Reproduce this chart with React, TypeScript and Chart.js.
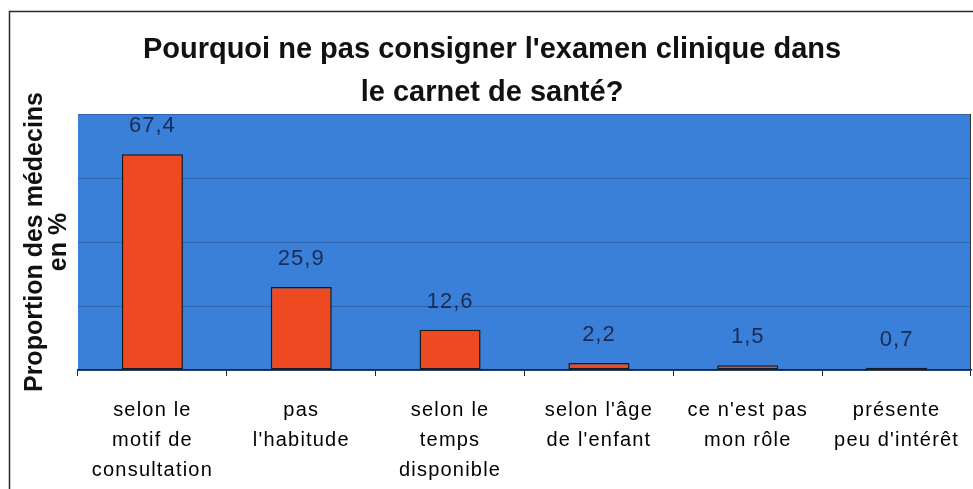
import React, { useEffect, useRef } from "react";
import { Chart, registerables } from "chart.js";

Chart.register(...registerables);

const TITLE_LINES = ["Pourquoi ne pas consigner l'examen clinique dans", "le carnet de santé?"];
const Y_TITLE_LINES = ["Proportion des médecins", "en %"];
const CATEGORIES: string[][] = [
  ["selon le", "motif de", "consultation"],
  ["pas", "l'habitude"],
  ["selon le", "temps", "disponible"],
  ["selon l'âge", "de l'enfant"],
  ["ce n'est pas", "mon rôle"],
  ["présente", "peu d'intérêt"],
];
const VALUES = [67.4, 25.9, 12.6, 2.2, 1.5, 0.7];
const Y_MIN = 0;
const Y_MAX = 80;
const Y_STEP = 20;

const PLOT_BG = "#3a7fd8";
const BAR_COLOR = "#ee4a22";
const GRID_COLOR = "#2f64ad";
const LABEL_COLOR = "#1c2b52";

const decoPlugin = {
  id: "deco",
  beforeDraw(chart: any) {
    const { ctx, chartArea } = chart;
    ctx.save();
    ctx.fillStyle = "#ffffff";
    ctx.fillRect(0, 0, chart.width, chart.height);
    ctx.fillStyle = PLOT_BG;
    ctx.fillRect(chartArea.left, chartArea.top, chartArea.right - chartArea.left, chartArea.bottom - chartArea.top);
    ctx.restore();
    const xs = chart.scales.x;
    if (xs && !xs.__patched) {
      const orig = xs.drawLabels.bind(xs);
      xs.drawLabels = (area: any) => {
        const c = xs.ctx;
        c.save();
        try { (c as any).letterSpacing = "1.2px"; } catch (e) {}
        orig(area);
        c.restore();
      };
      xs.__patched = true;
    }
  },
  afterDraw(chart: any) {
    const { ctx, chartArea } = chart;
    ctx.save();
    ctx.strokeStyle = "#2a2a2a";
    ctx.lineWidth = 1.5;
    ctx.beginPath();
    ctx.moveTo(9.5, chart.height);
    ctx.lineTo(9.5, 11.5);
    ctx.lineTo(chart.width, 11.5);
    ctx.stroke();
    ctx.beginPath();
    ctx.strokeStyle = "#333333";
    ctx.lineWidth = 1;
    ctx.moveTo(chartArea.right - 0.5, chartArea.top);
    ctx.lineTo(chartArea.right - 0.5, chartArea.bottom);
    ctx.stroke();
    ctx.restore();
  },
  afterDatasetsDraw(chart: any) {
    const { ctx } = chart;
    const meta = chart.getDatasetMeta(0);
    const data = chart.data.datasets[0].data as number[];
    ctx.save();
    try { (ctx as any).letterSpacing = "1px"; } catch (e) {}
    ctx.font = "22px 'Liberation Sans', Arial, sans-serif";
    ctx.fillStyle = LABEL_COLOR;
    ctx.textAlign = "center";
    ctx.textBaseline = "middle";
    meta.data.forEach((bar: any, i: number) => {
      const txt = data[i].toFixed(1).replace(".", ",");
      ctx.fillText(txt, bar.x, bar.y - 28);
    });
    ctx.restore();
  },
};

export default function App() {
  const ref = useRef<HTMLCanvasElement | null>(null);
  useEffect(() => {
    document.body.style.margin = "0";
    if (!ref.current) return;
    const chart = new Chart(ref.current, {
      type: "bar",
      data: {
        labels: CATEGORIES,
        datasets: [
          {
            data: VALUES,
            backgroundColor: BAR_COLOR,
            borderColor: "#1a1a1a",
            borderWidth: 1.5,
            borderSkipped: false,
            barPercentage: 0.41,
            categoryPercentage: 1,
          },
        ],
      },
      options: {
        responsive: false,
        animation: false,
        layout: { padding: { left: 13, right: 2, top: 0, bottom: 0 } },
        plugins: {
          legend: { display: false },
          tooltip: { enabled: false },
          title: {
            display: true,
            text: TITLE_LINES,
            color: "#111111",
            font: { family: "'Liberation Sans', Arial, sans-serif", size: 29, weight: "bold", lineHeight: 1.483 },
            padding: { top: 28, bottom: 0 },
          },
        },
        scales: {
          x: {
            grid: {
              display: true,
              drawOnChartArea: false,
              drawTicks: true,
              tickLength: 6,
              color: "#222222",
              offset: true,
            },
            border: { display: true, color: "#222222", width: 1.5 },
            ticks: {
              color: "#000000",
              font: { family: "'Liberation Sans', Arial, sans-serif", size: 20, lineHeight: 1.5 },
              padding: 19,
              maxRotation: 0,
              autoSkip: false,
            },
            afterFit: (s: any) => {
              s.height = 119;
            },
          },
          y: {
            min: Y_MIN,
            max: Y_MAX,
            ticks: { display: false, stepSize: Y_STEP },
            grid: { color: GRID_COLOR, lineWidth: 1, drawTicks: false },
            border: { display: false },
            title: {
              display: true,
              text: Y_TITLE_LINES,
              color: "#111111",
              font: { family: "'Liberation Sans', Arial, sans-serif", size: 25, weight: "bold", lineHeight: 0.95 },
              padding: { top: 10, bottom: 0 },
            },
            afterFit: (s: any) => {
              s.width = 65;
            },
          },
        },
      },
      plugins: [decoPlugin],
    });
    return () => chart.destroy();
  }, []);
  return (
    <div style={{ width: 973, height: 489 }}>
      <canvas ref={ref} width={973} height={489} style={{ display: "block" }} />
    </div>
  );
}
